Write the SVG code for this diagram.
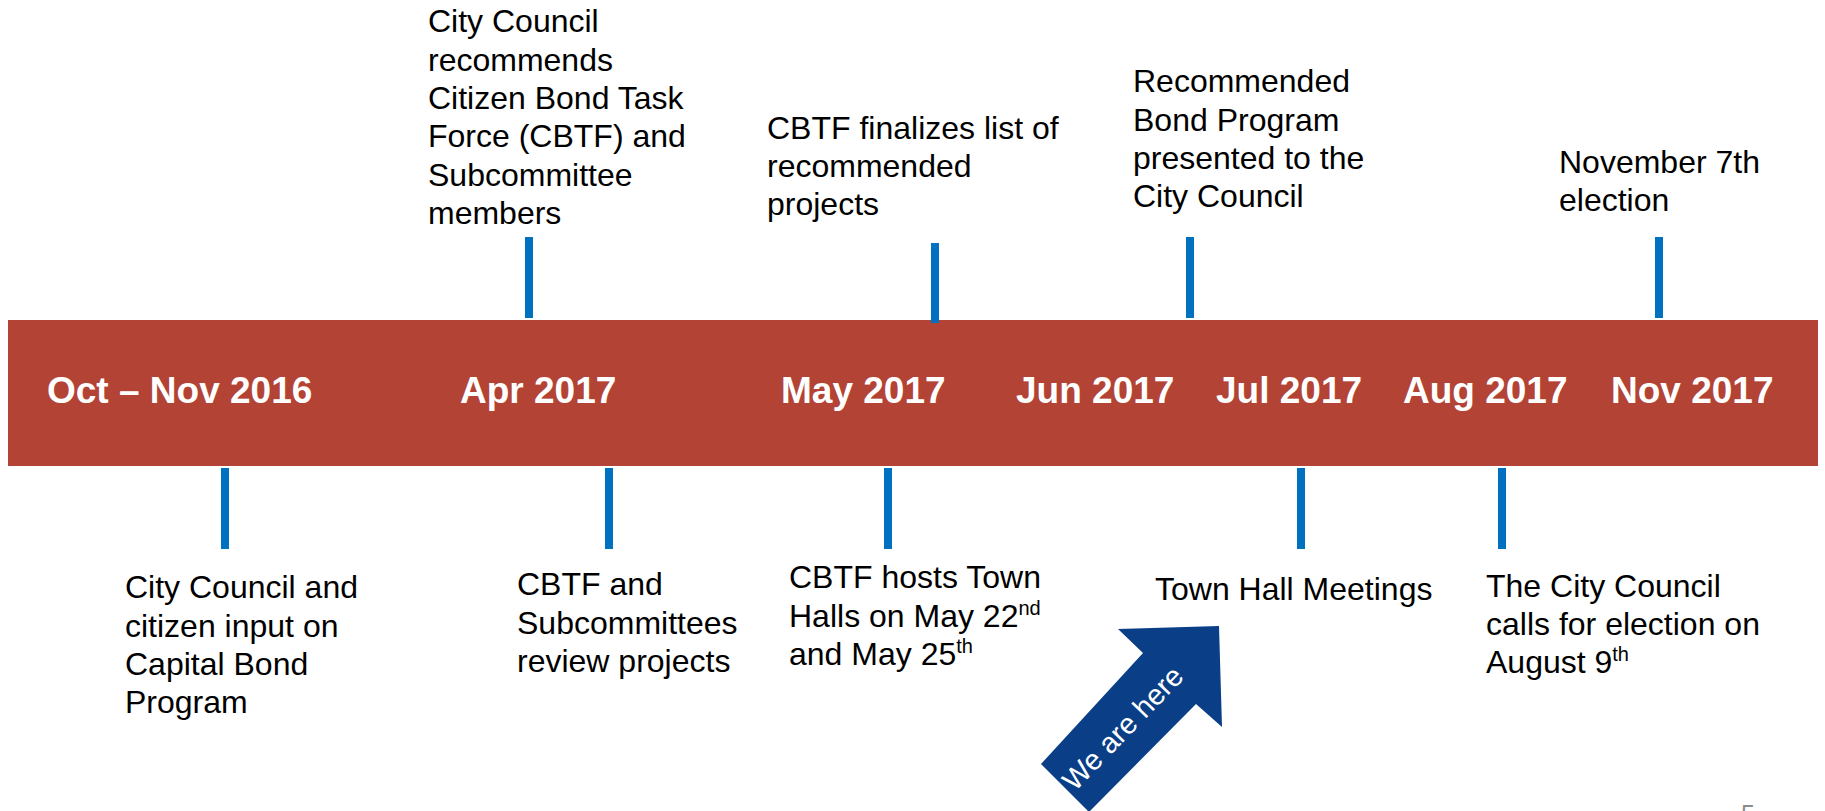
<svg xmlns="http://www.w3.org/2000/svg" width="1825" height="811" viewBox="0 0 1825 811">
<style>
.lbl{font-family:"Liberation Sans",Arial,sans-serif;font-size:32px;fill:#000}
.bar{font-family:"Liberation Sans",Arial,sans-serif;font-size:37px;font-weight:bold;fill:#fff}
.sup{font-size:20px}
.tick{stroke:#0070C0;stroke-width:8}
</style>
<rect width="1825" height="811" fill="#fff"/>
<g id="timeline-bar">
<rect x="8" y="320" width="1810" height="146" fill="#B34334"/>
<text class="bar" x="47" y="403">Oct – Nov 2016</text>
<text class="bar" x="460" y="403">Apr 2017</text>
<text class="bar" x="781" y="403">May 2017</text>
<text class="bar" x="1016" y="403">Jun 2017</text>
<text class="bar" x="1216" y="403">Jul 2017</text>
<text class="bar" x="1403" y="403">Aug 2017</text>
<text class="bar" x="1611" y="403">Nov 2017</text>
</g>
<g id="connectors">
<line class="tick" x1="529" y1="237" x2="529" y2="318"/>
<line class="tick" x1="935" y1="243" x2="935" y2="323"/>
<line class="tick" x1="1190" y1="237" x2="1190" y2="318"/>
<line class="tick" x1="1659" y1="237" x2="1659" y2="318"/>
<line class="tick" x1="225" y1="468" x2="225" y2="549"/>
<line class="tick" x1="609" y1="468" x2="609" y2="549"/>
<line class="tick" x1="888" y1="468" x2="888" y2="549"/>
<line class="tick" x1="1301" y1="468" x2="1301" y2="549"/>
<line class="tick" x1="1502" y1="468" x2="1502" y2="549"/>
</g>
<g id="note-apr-top">
<text class="lbl"><tspan x="428" y="32">City Council</tspan><tspan x="428" y="70.5">recommends</tspan><tspan x="428" y="109">Citizen Bond Task</tspan><tspan x="428" y="147">Force (CBTF) and</tspan><tspan x="428" y="185.5">Subcommittee</tspan><tspan x="428" y="224">members</tspan></text>
</g>
<g id="note-may-top">
<text class="lbl"><tspan x="767" y="138.5">CBTF finalizes list of</tspan><tspan x="767" y="177">recommended</tspan><tspan x="767" y="215">projects</tspan></text>
</g>
<g id="note-jun-top">
<text class="lbl"><tspan x="1133" y="92">Recommended</tspan><tspan x="1133" y="130.5">Bond Program</tspan><tspan x="1133" y="169">presented to the</tspan><tspan x="1133" y="207">City Council</tspan></text>
</g>
<g id="note-nov-top">
<text class="lbl"><tspan x="1559" y="172.5">November 7th</tspan><tspan x="1559" y="211">election</tspan></text>
</g>
<g id="note-oct-bottom">
<text class="lbl"><tspan x="125" y="598">City Council and</tspan><tspan x="125" y="636.5">citizen input on</tspan><tspan x="125" y="675">Capital Bond</tspan><tspan x="125" y="713">Program</tspan></text>
</g>
<g id="note-apr-bottom">
<text class="lbl"><tspan x="517" y="595">CBTF and</tspan><tspan x="517" y="633.5">Subcommittees</tspan><tspan x="517" y="672">review projects</tspan></text>
</g>
<g id="note-may-bottom">
<text class="lbl"><tspan x="789" y="588">CBTF hosts Town</tspan><tspan x="789" y="626.5">Halls on May 22</tspan><tspan class="sup" y="615">nd</tspan><tspan x="789" y="665">and May 25</tspan><tspan class="sup" y="653">th</tspan></text>
</g>
<g id="note-jul-bottom">
<text class="lbl" x="1155" y="600">Town Hall Meetings</text>
</g>
<g id="note-aug-bottom">
<text class="lbl"><tspan x="1486" y="597">The City Council</tspan><tspan x="1486" y="635">calls for election on</tspan><tspan x="1486" y="673">August 9</tspan><tspan class="sup" y="661">th</tspan></text>
</g>
<g id="we-are-here">
<polygon points="1219,626 1118,629 1143,653 1041,764 1089,812 1196,704 1222,727" fill="#0A3F87"/>
<text x="0" y="0" transform="translate(1130,735) rotate(-46)" text-anchor="middle" font-family="'Liberation Sans',Arial,sans-serif" font-size="29" fill="#fff">We are here</text>
</g>
<g id="page-number">
<text x="1741" y="823" font-family="'Liberation Sans',Arial,sans-serif" font-size="25" fill="#8C8C8C">5</text>
</g>
</svg>
